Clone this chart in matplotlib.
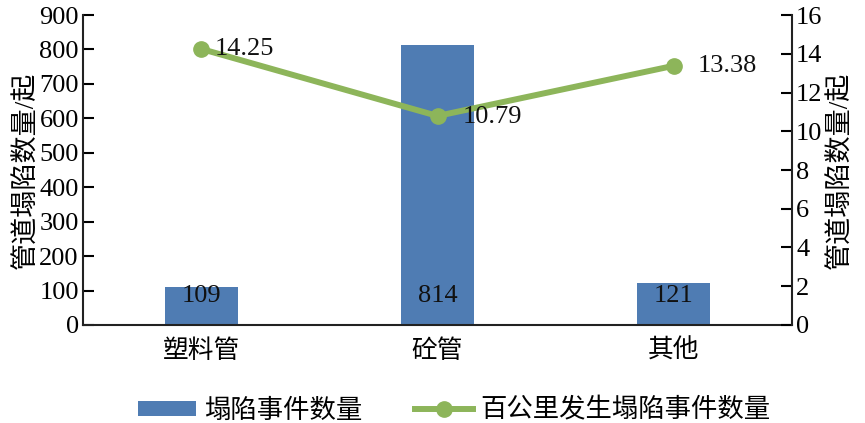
import matplotlib
matplotlib.use('Agg')
from matplotlib import pyplot as plt
import numpy as np

categories = ['塑料管', '砼管', '其他']
collapse_counts = [109, 814, 121]
per_100km = [14.25, 10.79, 13.38]

bar_name = '塌陷事件数量'
line_name = '百公里发生塌陷事件数量'
ylabel = '管道塌陷数量/起'

COLOR_BAR = '#4f7cb3'
COLOR_LINE = '#8db55a'

plt.rcParams['font.family'] = ['Liberation Serif', 'Noto Sans CJK SC']
plt.rcParams['font.size'] = 19

fig = plt.figure(figsize=(8.65, 4.23), dpi=100)
ax = fig.add_axes([0.096, 0.2317, 0.8196, 0.7328])
ax2 = ax.twinx()

x = np.arange(len(categories))
bars = ax.bar(x, collapse_counts, width=0.31, color=COLOR_BAR, label=bar_name, zorder=1)
for xi, v in zip(x, collapse_counts):
    ax.text(xi, 84, str(v), ha='center', va='center', fontsize=19, color='#111111', zorder=5)

line, = ax2.plot(x, per_100km, color=COLOR_LINE, lw=4.3, marker='o', markersize=11,
                 label=line_name, zorder=3)
offsets = [(10, 0), (18, -1), (17, 0)]
for xi, v, off in zip(x, per_100km, offsets):
    ax2.annotate('%.2f' % v, (xi, v), xytext=off, textcoords='offset points',
                 ha='left', va='center', fontsize=19, color='#111111', zorder=5)

ax.set_xlim(-0.5, 2.5)
ax.set_ylim(0, 900)
ax.set_yticks(range(0, 901, 100))
ax2.set_ylim(0, 16)
ax2.set_yticks(range(0, 17, 2))
ax.set_xticks(x)
ax.set_xticklabels(categories, fontsize=18.5)

for a in (ax, ax2):
    a.spines['top'].set_visible(False)
    for s in a.spines.values():
        s.set_linewidth(1.5)
        s.set_color('#222222')
    a.tick_params(axis='y', direction='in', length=8, width=1.5, pad=3, labelsize=19)
ax.tick_params(axis='x', length=0, pad=10)
ax2.spines['left'].set_visible(False)
ax.spines['right'].set_visible(False)
ax2.spines['bottom'].set_visible(False)

ax.set_ylabel(ylabel, fontsize=19.5, labelpad=0)
ax2.set_ylabel(ylabel, fontsize=19.5, labelpad=4)

fig.legend([bars, line], [bar_name, line_name], loc='center', bbox_to_anchor=(0.525, 0.03),
           ncol=2, frameon=False, fontsize=19, handlelength=2.2, handleheight=0.55,
           columnspacing=2.0, handletextpad=0.3, borderpad=0.2)

fig.savefig('out.png', dpi=100)
